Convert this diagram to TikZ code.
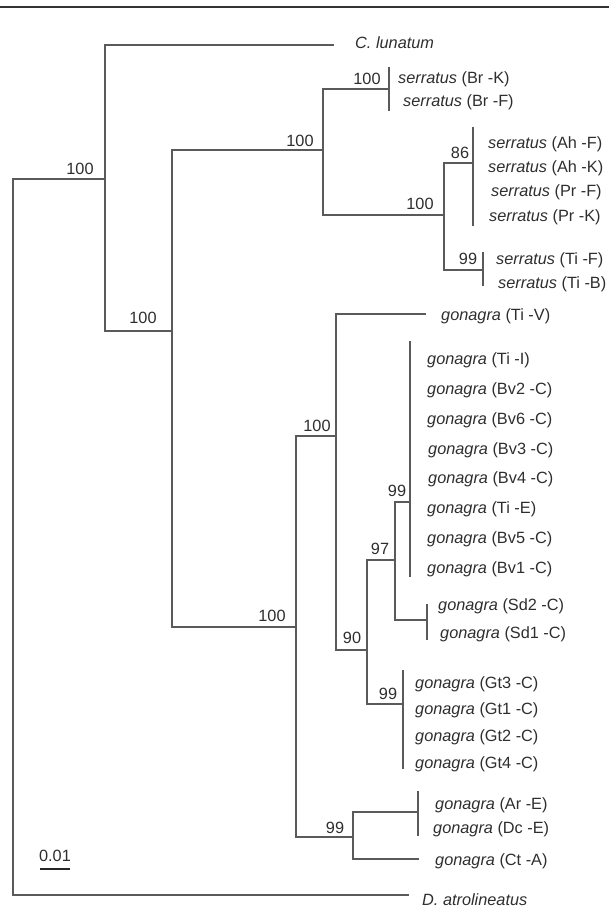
\documentclass[tikz,border=0pt]{standalone}
\usepackage{fontspec}
\setmainfont{Liberation Sans}
\definecolor{linegray}{HTML}{5A5A5A}
\definecolor{textgray}{HTML}{2E2E2E}
\begin{document}
\begin{tikzpicture}[x=1pt,y=-1pt,
  branch/.style={draw=linegray,line width=1.2pt,line cap=rect},
  tip/.style={anchor=base west,inner sep=0pt,text=textgray,font=\fontsize{16.3}{19}\selectfont},
  supp/.style={anchor=base,inner sep=0pt,text=textgray,font=\fontsize{16.3}{19}\selectfont}]
\useasboundingbox (0,0) rectangle (609,908);
% top rule
\coordinate (ruleL) at (0,7);
\coordinate (ruleR) at (609,7);
\draw[draw=black!80,line width=1.3pt] (ruleL) -- (ruleR);
% internal nodes
\coordinate (root) at (13,537);
\coordinate (nA) at (105,179);
\coordinate (clunE) at (333,45);
\coordinate (datroE) at (408,895);
\coordinate (nB) at (172,331);
\coordinate (nS) at (323,150);
\coordinate (nG) at (296,627);
\coordinate (nBr) at (389,89);
\coordinate (nS2) at (444,215);
\coordinate (n86) at (473,163);
\coordinate (nTi) at (483,270);
\coordinate (nG1) at (336,436);
\coordinate (nG2) at (353,837);
\coordinate (tiVE) at (425,314);
\coordinate (n90) at (367,650);
\coordinate (n97) at (395,560);
\coordinate (nGt) at (403,704);
\coordinate (n99a) at (410,502);
\coordinate (nSd) at (427,620);
\coordinate (nAD) at (418,812);
\coordinate (ctAE) at (418,859);
% polytomy bars
\coordinate (nBrT) at (389,68);   \coordinate (nBrB) at (389,110);
\coordinate (n86T) at (473,128);  \coordinate (n86B) at (473,225);
\coordinate (nTiT) at (483,253);  \coordinate (nTiB) at (483,285);
\coordinate (n99aT) at (410,342); \coordinate (n99aB) at (410,576);
\coordinate (nSdT) at (427,605);  \coordinate (nSdB) at (427,639);
\coordinate (nGtT) at (403,671);  \coordinate (nGtB) at (403,768);
\coordinate (nADT) at (418,792);  \coordinate (nADB) at (418,835);
% branches
\draw[branch] (root) |- (nA);
\draw[branch] (root) |- (datroE);
\draw[branch] (nA) |- (clunE);
\draw[branch] (nA) |- (nB);
\draw[branch] (nB) |- (nS);
\draw[branch] (nB) |- (nG);
\draw[branch] (nS) |- (nBr);
\draw[branch] (nS) |- (nS2);
\draw[branch] (nS2) |- (n86);
\draw[branch] (nS2) |- (nTi);
\draw[branch] (nG) |- (nG1);
\draw[branch] (nG) |- (nG2);
\draw[branch] (nG1) |- (tiVE);
\draw[branch] (nG1) |- (n90);
\draw[branch] (n90) |- (n97);
\draw[branch] (n90) |- (nGt);
\draw[branch] (n97) |- (n99a);
\draw[branch] (n97) |- (nSd);
\draw[branch] (nG2) |- (nAD);
\draw[branch] (nG2) |- (ctAE);
\draw[branch] (nBrT) -- (nBrB);
\draw[branch] (n86T) -- (n86B);
\draw[branch] (nTiT) -- (nTiB);
\draw[branch] (n99aT) -- (n99aB);
\draw[branch] (nSdT) -- (nSdB);
\draw[branch] (nGtT) -- (nGtB);
\draw[branch] (nADT) -- (nADB);
% tip labels
\node[tip] (clun) at (355,48) {\textit{C. lunatum}};
\node[tip] (brk) at (398,83) {\textit{serratus} (Br -K)};
\node[tip] (brf) at (403,106) {\textit{serratus} (Br -F)};
\node[tip] (ahf) at (488,148) {\textit{serratus} (Ah -F)};
\node[tip] (ahk) at (488,172) {\textit{serratus} (Ah -K)};
\node[tip] (prf) at (491,196) {\textit{serratus} (Pr -F)};
\node[tip] (prk) at (489,221) {\textit{serratus} (Pr -K)};
\node[tip] (tif) at (496,264) {\textit{serratus} (Ti -F)};
\node[tip] (tib) at (498,288) {\textit{serratus} (Ti -B)};
\node[tip] (tiv) at (441,320) {\textit{gonagra} (Ti -V)};
\node[tip] (tii) at (427,364) {\textit{gonagra} (Ti -I)};
\node[tip] (bv2) at (427,394) {\textit{gonagra} (Bv2 -C)};
\node[tip] (bv6) at (427,424) {\textit{gonagra} (Bv6 -C)};
\node[tip] (bv3) at (428,454) {\textit{gonagra} (Bv3 -C)};
\node[tip] (bv4) at (428,483) {\textit{gonagra} (Bv4 -C)};
\node[tip] (tie) at (427,513) {\textit{gonagra} (Ti -E)};
\node[tip] (bv5) at (427,543) {\textit{gonagra} (Bv5 -C)};
\node[tip] (bv1) at (427,573) {\textit{gonagra} (Bv1 -C)};
\node[tip] (sd2) at (438,610) {\textit{gonagra} (Sd2 -C)};
\node[tip] (sd1) at (440,638) {\textit{gonagra} (Sd1 -C)};
\node[tip] (gt3) at (415,688) {\textit{gonagra} (Gt3 -C)};
\node[tip] (gt1) at (415,714) {\textit{gonagra} (Gt1 -C)};
\node[tip] (gt2) at (415,741) {\textit{gonagra} (Gt2 -C)};
\node[tip] (gt4) at (415,768) {\textit{gonagra} (Gt4 -C)};
\node[tip] (are) at (435,809) {\textit{gonagra} (Ar -E)};
\node[tip] (dce) at (433,833) {\textit{gonagra} (Dc -E)};
\node[tip] (cta) at (435,865) {\textit{gonagra} (Ct -A)};
\node[tip] (datro) at (422,905) {\textit{D. atrolineatus}};
% support values
\node[supp] (sA) at (80,174) {100};
\node[supp] (sB) at (143,323) {100};
\node[supp] (sS) at (300,146) {100};
\node[supp] (sG) at (272,621) {100};
\node[supp] (sBr) at (367,84) {100};
\node[supp] (sS2) at (420,209) {100};
\node[supp] (s86) at (460,158) {86};
\node[supp] (sTi) at (468,264) {99};
\node[supp] (sG1) at (317,431) {100};
\node[supp] (sG2) at (335,833) {99};
\node[supp] (s90) at (352,643) {90};
\node[supp] (s97) at (380,554) {97};
\node[supp] (sGt) at (388,699) {99};
\node[supp] (s99a) at (397,496) {99};
% scale bar
\node[supp] (scl) at (55,861) {0.01};
\coordinate (barL) at (40,869);
\coordinate (barR) at (70,869);
\draw[draw=black!85,line width=1.2pt] (barL) -- (barR);
\end{tikzpicture}
\end{document}
